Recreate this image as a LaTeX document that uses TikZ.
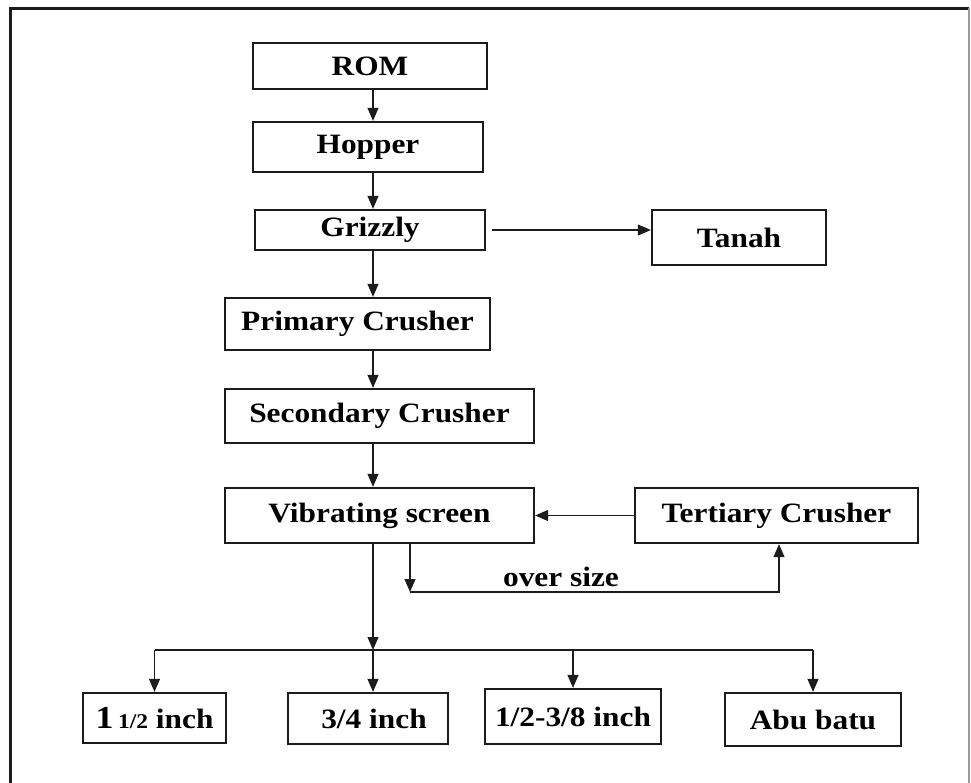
\documentclass[tikz,border=0pt]{standalone}
\usepackage{fontspec}
\setmainfont{Liberation Serif}[FakeStretch=1.12]
\usetikzlibrary{arrows.meta,positioning,calc}
\definecolor{ink}{HTML}{1C1C1C}
\definecolor{rim}{HTML}{9A9A9A}
\newcommand{\boxfont}{\fontsize{14}{16}\selectfont\bfseries}
\tikzset{
  blk/.style={rectangle, draw=ink, line width=1.1pt, inner sep=0pt, font=\boxfont},
  link/.style={-{Triangle[length=6.5pt, width=5.4pt]}, line width=0.8pt, draw=ink},
  wire/.style={line width=0.8pt, draw=ink},
  lbl/.style={inner sep=0pt, font=\boxfont},
}

\begin{document}
\begin{tikzpicture}[x=0.5pt, y=-0.5pt]
  \useasboundingbox (0,0) rectangle (971,783);
  \draw[ink, line width=1.5pt] (10,783) -- (10,8) -- (969,8);
  \draw[rim, line width=0.6pt] (969,8) -- (969,783);
  % main line
  \node[blk, minimum width=117pt, minimum height=23pt] (rom) at (370,66) {ROM};
  \node[blk, minimum width=115pt, minimum height=25pt] (hop) at (368,147) {Hopper};
  \node[blk, minimum width=115pt, minimum height=20pt] (grz) at (370,230) {Grizzly};
  \node[blk, minimum width=87pt, minimum height=27.5pt] (tan) at (739,237.5) {Tanah};
  \node[blk, minimum width=132.5pt, minimum height=26pt] (pri) at (357.5,324) {Primary Crusher};
  \node[blk, minimum width=154.5pt, minimum height=27pt] (sec) at (379.5,416) {Secondary Crusher};
  \node[blk, minimum width=154.5pt, minimum height=27.5pt] (vib) at (379.5,515.5) {Vibrating screen};
  \node[blk, minimum width=141.5pt, minimum height=27.5pt] (ter) at (776.5,515.5) {Tertiary Crusher};
  % products
  \node[blk, minimum width=71.5pt, minimum height=25pt] (p1) at (154.5,718) {{\fontsize{16}{17}\selectfont 1}\,{\fontsize{10.5}{12}\selectfont 1/2} inch};
  \node[blk, minimum width=80pt, minimum height=25.5pt] (p2) at (368,718.5) {\hspace{6pt}3/4 inch};
  \node[blk, minimum width=88pt, minimum height=27.5pt] (p3) at (573,716.5) {1/2-3/8 inch};
  \node[blk, minimum width=88pt, minimum height=26.5pt] (p4) at (813,719.5) {Abu batu};
  \node[lbl] (ovs) at (561,577) {over size};
  \coordinate (col) at (373,0);
  \coordinate (bus) at (373,650);
  \coordinate (ovl) at (410,592);
  \coordinate (ovr) at (779,592);
  \draw[link] (rom.south -| col) -- (hop.north -| col);
  \draw[link] (hop.south -| col) -- (grz.north -| col);
  \draw[link] (grz.south -| col) -- (pri.north -| col);
  \draw[link] (pri.south -| col) -- (sec.north -| col);
  \draw[link] (sec.south -| col) -- (vib.north -| col);
  \draw[link] ([xshift=3pt]grz.east) -- (grz.east -| tan.west);
  \draw[link] (ter.west) -- (vib.east);
  % over size loop
  \draw[link] (vib.south -| ovl) -- (ovl);
  \draw[link] (ovl) -- (ovr) -- (ovr |- ter.south);
  % screen outputs
  \draw[link] (vib.south -| col) -- (bus);
  \draw[wire] (bus -| p1) -- (bus -| p4);
  \draw[link] (bus -| p1) -- (p1.north);
  \draw[link] (bus) -- (bus |- p2.north);
  \draw[link] (bus -| p3) -- (p3.north);
  \draw[link] (bus -| p4) -- (p4.north);
\end{tikzpicture}
\end{document}
